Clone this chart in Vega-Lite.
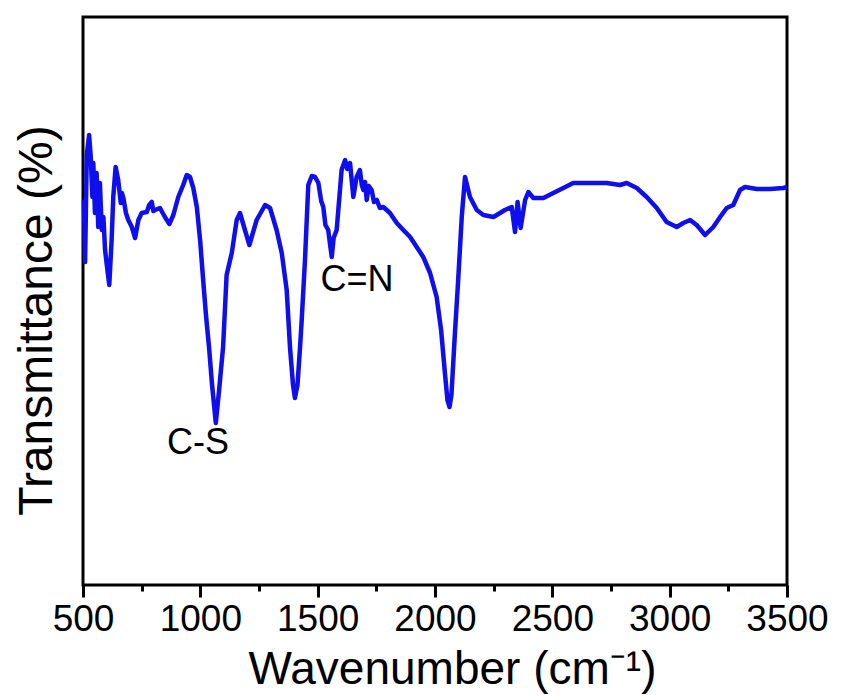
{
  "$schema": "https://vega.github.io/schema/vega-lite/v6.json",
  "width": 704,
  "height": 568,
  "autosize": "none",
  "padding": {"left": 83, "top": 17, "right": 70, "bottom": 110},
  "background": "white",
  "config": {
    "view": {"stroke": "black", "strokeWidth": 3},
    "font": "Liberation Sans",
    "axis": {"grid": false}
  },
  "datasets": {
    "spectrum": [
      {"w": 504, "t": 77.0}, {"w": 509, "t": 64.6}, {"w": 516, "t": 86.0}, {"w": 526, "t": 90.0},
      {"w": 533, "t": 85.6}, {"w": 540, "t": 77.6}, {"w": 544, "t": 84.4}, {"w": 551, "t": 74.4},
      {"w": 558, "t": 82.4}, {"w": 565, "t": 71.6}, {"w": 572, "t": 80.4}, {"w": 580, "t": 71.0},
      {"w": 587, "t": 73.6}, {"w": 594, "t": 67.0}, {"w": 604, "t": 63.0}, {"w": 612, "t": 60.0},
      {"w": 622, "t": 69.0}, {"w": 629, "t": 77.6}, {"w": 639, "t": 83.6}, {"w": 650, "t": 81.0},
      {"w": 661, "t": 76.4}, {"w": 666, "t": 78.4}, {"w": 672, "t": 77.4}, {"w": 683, "t": 74.4}, {"w": 693, "t": 73.0},
      {"w": 708, "t": 71.6}, {"w": 722, "t": 69.4}, {"w": 736, "t": 73.0}, {"w": 750, "t": 74.4},
      {"w": 772, "t": 74.6}, {"w": 782, "t": 76.0}, {"w": 793, "t": 76.6}, {"w": 800, "t": 74.8}, {"w": 807, "t": 75.0}, {"w": 828, "t": 75.4},
      {"w": 849, "t": 73.6}, {"w": 868, "t": 72.2}, {"w": 885, "t": 74.0}, {"w": 906, "t": 77.6},
      {"w": 927, "t": 80.0}, {"w": 942, "t": 82.0}, {"w": 956, "t": 81.6}, {"w": 970, "t": 79.4},
      {"w": 985, "t": 75.6}, {"w": 999, "t": 69.0}, {"w": 1013, "t": 60.4}, {"w": 1024, "t": 54.0},
      {"w": 1037, "t": 47.6}, {"w": 1050, "t": 40.0}, {"w": 1066, "t": 32.4}, {"w": 1080, "t": 39.0},
      {"w": 1097, "t": 47.6}, {"w": 1112, "t": 62.0}, {"w": 1134, "t": 66.4}, {"w": 1155, "t": 73.0},
      {"w": 1169, "t": 74.4}, {"w": 1190, "t": 71.0}, {"w": 1209, "t": 68.0}, {"w": 1240, "t": 73.0},
      {"w": 1276, "t": 76.0}, {"w": 1297, "t": 75.4}, {"w": 1325, "t": 71.0}, {"w": 1347, "t": 66.4},
      {"w": 1368, "t": 59.0}, {"w": 1382, "t": 47.6}, {"w": 1395, "t": 40.0}, {"w": 1403, "t": 37.4},
      {"w": 1414, "t": 40.0}, {"w": 1425, "t": 47.6}, {"w": 1432, "t": 53.0}, {"w": 1446, "t": 65.0},
      {"w": 1460, "t": 80.0}, {"w": 1475, "t": 81.8}, {"w": 1489, "t": 81.6}, {"w": 1503, "t": 80.4},
      {"w": 1515, "t": 76.8}, {"w": 1524, "t": 75.6}, {"w": 1533, "t": 72.0}, {"w": 1545, "t": 71.0}, {"w": 1552, "t": 68.4}, {"w": 1560, "t": 65.6}, {"w": 1568, "t": 69.4}, {"w": 1581, "t": 71.0},
      {"w": 1602, "t": 83.0}, {"w": 1617, "t": 85.0}, {"w": 1626, "t": 83.2}, {"w": 1638, "t": 84.4}, {"w": 1652, "t": 77.6},
      {"w": 1666, "t": 81.6}, {"w": 1680, "t": 83.0}, {"w": 1688, "t": 80.0}, {"w": 1695, "t": 79.0}, {"w": 1702, "t": 80.6}, {"w": 1709, "t": 77.0},
      {"w": 1718, "t": 79.8}, {"w": 1730, "t": 79.0}, {"w": 1740, "t": 76.6}, {"w": 1752, "t": 77.0}, {"w": 1765, "t": 75.4}, {"w": 1780, "t": 75.6}, {"w": 1808, "t": 74.4},
      {"w": 1837, "t": 72.4}, {"w": 1865, "t": 71.0}, {"w": 1894, "t": 69.6}, {"w": 1922, "t": 67.6},
      {"w": 1950, "t": 65.6}, {"w": 1979, "t": 62.4}, {"w": 2007, "t": 57.6}, {"w": 2026, "t": 51.0},
      {"w": 2043, "t": 42.0}, {"w": 2053, "t": 37.0}, {"w": 2062, "t": 35.6}, {"w": 2070, "t": 38.0},
      {"w": 2085, "t": 50.4}, {"w": 2098, "t": 60.4}, {"w": 2114, "t": 73.6}, {"w": 2128, "t": 81.6},
      {"w": 2149, "t": 77.6}, {"w": 2178, "t": 75.0}, {"w": 2206, "t": 74.0}, {"w": 2249, "t": 73.6},
      {"w": 2277, "t": 74.4}, {"w": 2298, "t": 75.0}, {"w": 2327, "t": 75.6}, {"w": 2341, "t": 70.6},
      {"w": 2352, "t": 76.6}, {"w": 2365, "t": 71.4}, {"w": 2384, "t": 77.0}, {"w": 2398, "t": 78.6},
      {"w": 2419, "t": 77.4}, {"w": 2462, "t": 77.4}, {"w": 2504, "t": 78.4}, {"w": 2547, "t": 79.4},
      {"w": 2589, "t": 80.4}, {"w": 2661, "t": 80.4}, {"w": 2732, "t": 80.4}, {"w": 2788, "t": 80.0},
      {"w": 2817, "t": 80.4}, {"w": 2860, "t": 79.4}, {"w": 2902, "t": 77.6}, {"w": 2945, "t": 75.4},
      {"w": 2987, "t": 72.6}, {"w": 3030, "t": 71.6}, {"w": 3058, "t": 72.4}, {"w": 3087, "t": 73.0},
      {"w": 3115, "t": 72.0}, {"w": 3151, "t": 70.0}, {"w": 3186, "t": 71.6}, {"w": 3215, "t": 73.6},
      {"w": 3243, "t": 75.4}, {"w": 3271, "t": 76.0}, {"w": 3300, "t": 79.0}, {"w": 3321, "t": 79.6},
      {"w": 3371, "t": 79.2}, {"w": 3428, "t": 79.2}, {"w": 3484, "t": 79.4}, {"w": 3500, "t": 79.6}
    ],
    "labels": [
      {"w": 990, "t": 28.4, "label": "C-S"},
      {"w": 1668, "t": 61.0, "label": "C=N"}
    ]
  },
  "layer": [
    {
      "data": {"name": "spectrum"},
      "mark": {"type": "line", "color": "#0f0fee", "strokeWidth": 4.5, "interpolate": "linear", "strokeJoin": "round"},
      "encoding": {
        "x": {
          "field": "w", "type": "quantitative",
          "scale": {"domain": [500, 3500], "nice": false, "zero": false},
          "axis": {
            "orient": "bottom",
            "values": [500, 1000, 1500, 2000, 2500, 3000, 3500],
            "format": "d",
            "domain": false,
            "tickSize": 12, "tickWidth": 3, "tickColor": "black",
            "labelFontSize": 37, "labelColor": "black", "labelPadding": 4,
            "labelFlush": false, "labelOverlap": false,
            "title": "Wavenumber (cm⁻¹)",
            "titleFontSize": 46, "titleFontWeight": "normal", "titleColor": "black",
            "titlePadding": 10, "titleX": 369
          }
        },
        "y": {
          "field": "t", "type": "quantitative",
          "scale": {"domain": [0, 113.6], "nice": false, "zero": false},
          "axis": {
            "labels": false, "ticks": false, "domain": false,
            "title": "Transmittance (%)",
            "titleFontSize": 48, "titleFontWeight": "normal", "titleColor": "black",
            "titlePadding": 22, "titleY": 303
          }
        }
      }
    },
    {
      "data": {"name": "labels"},
      "mark": {"type": "text", "fontSize": 36, "color": "black", "align": "center", "baseline": "middle"},
      "encoding": {
        "x": {
          "field": "w", "type": "quantitative",
          "axis": {
            "orient": "bottom",
            "values": [750, 1250, 1750, 2250, 2750, 3250],
            "domain": false, "labels": false, "title": null,
            "tickSize": 6, "tickWidth": 3, "tickColor": "black"
          }
        },
        "y": {"field": "t", "type": "quantitative", "axis": null},
        "text": {"field": "label"}
      }
    }
  ],
  "resolve": {"axis": {"x": "independent", "y": "independent"}}
}
